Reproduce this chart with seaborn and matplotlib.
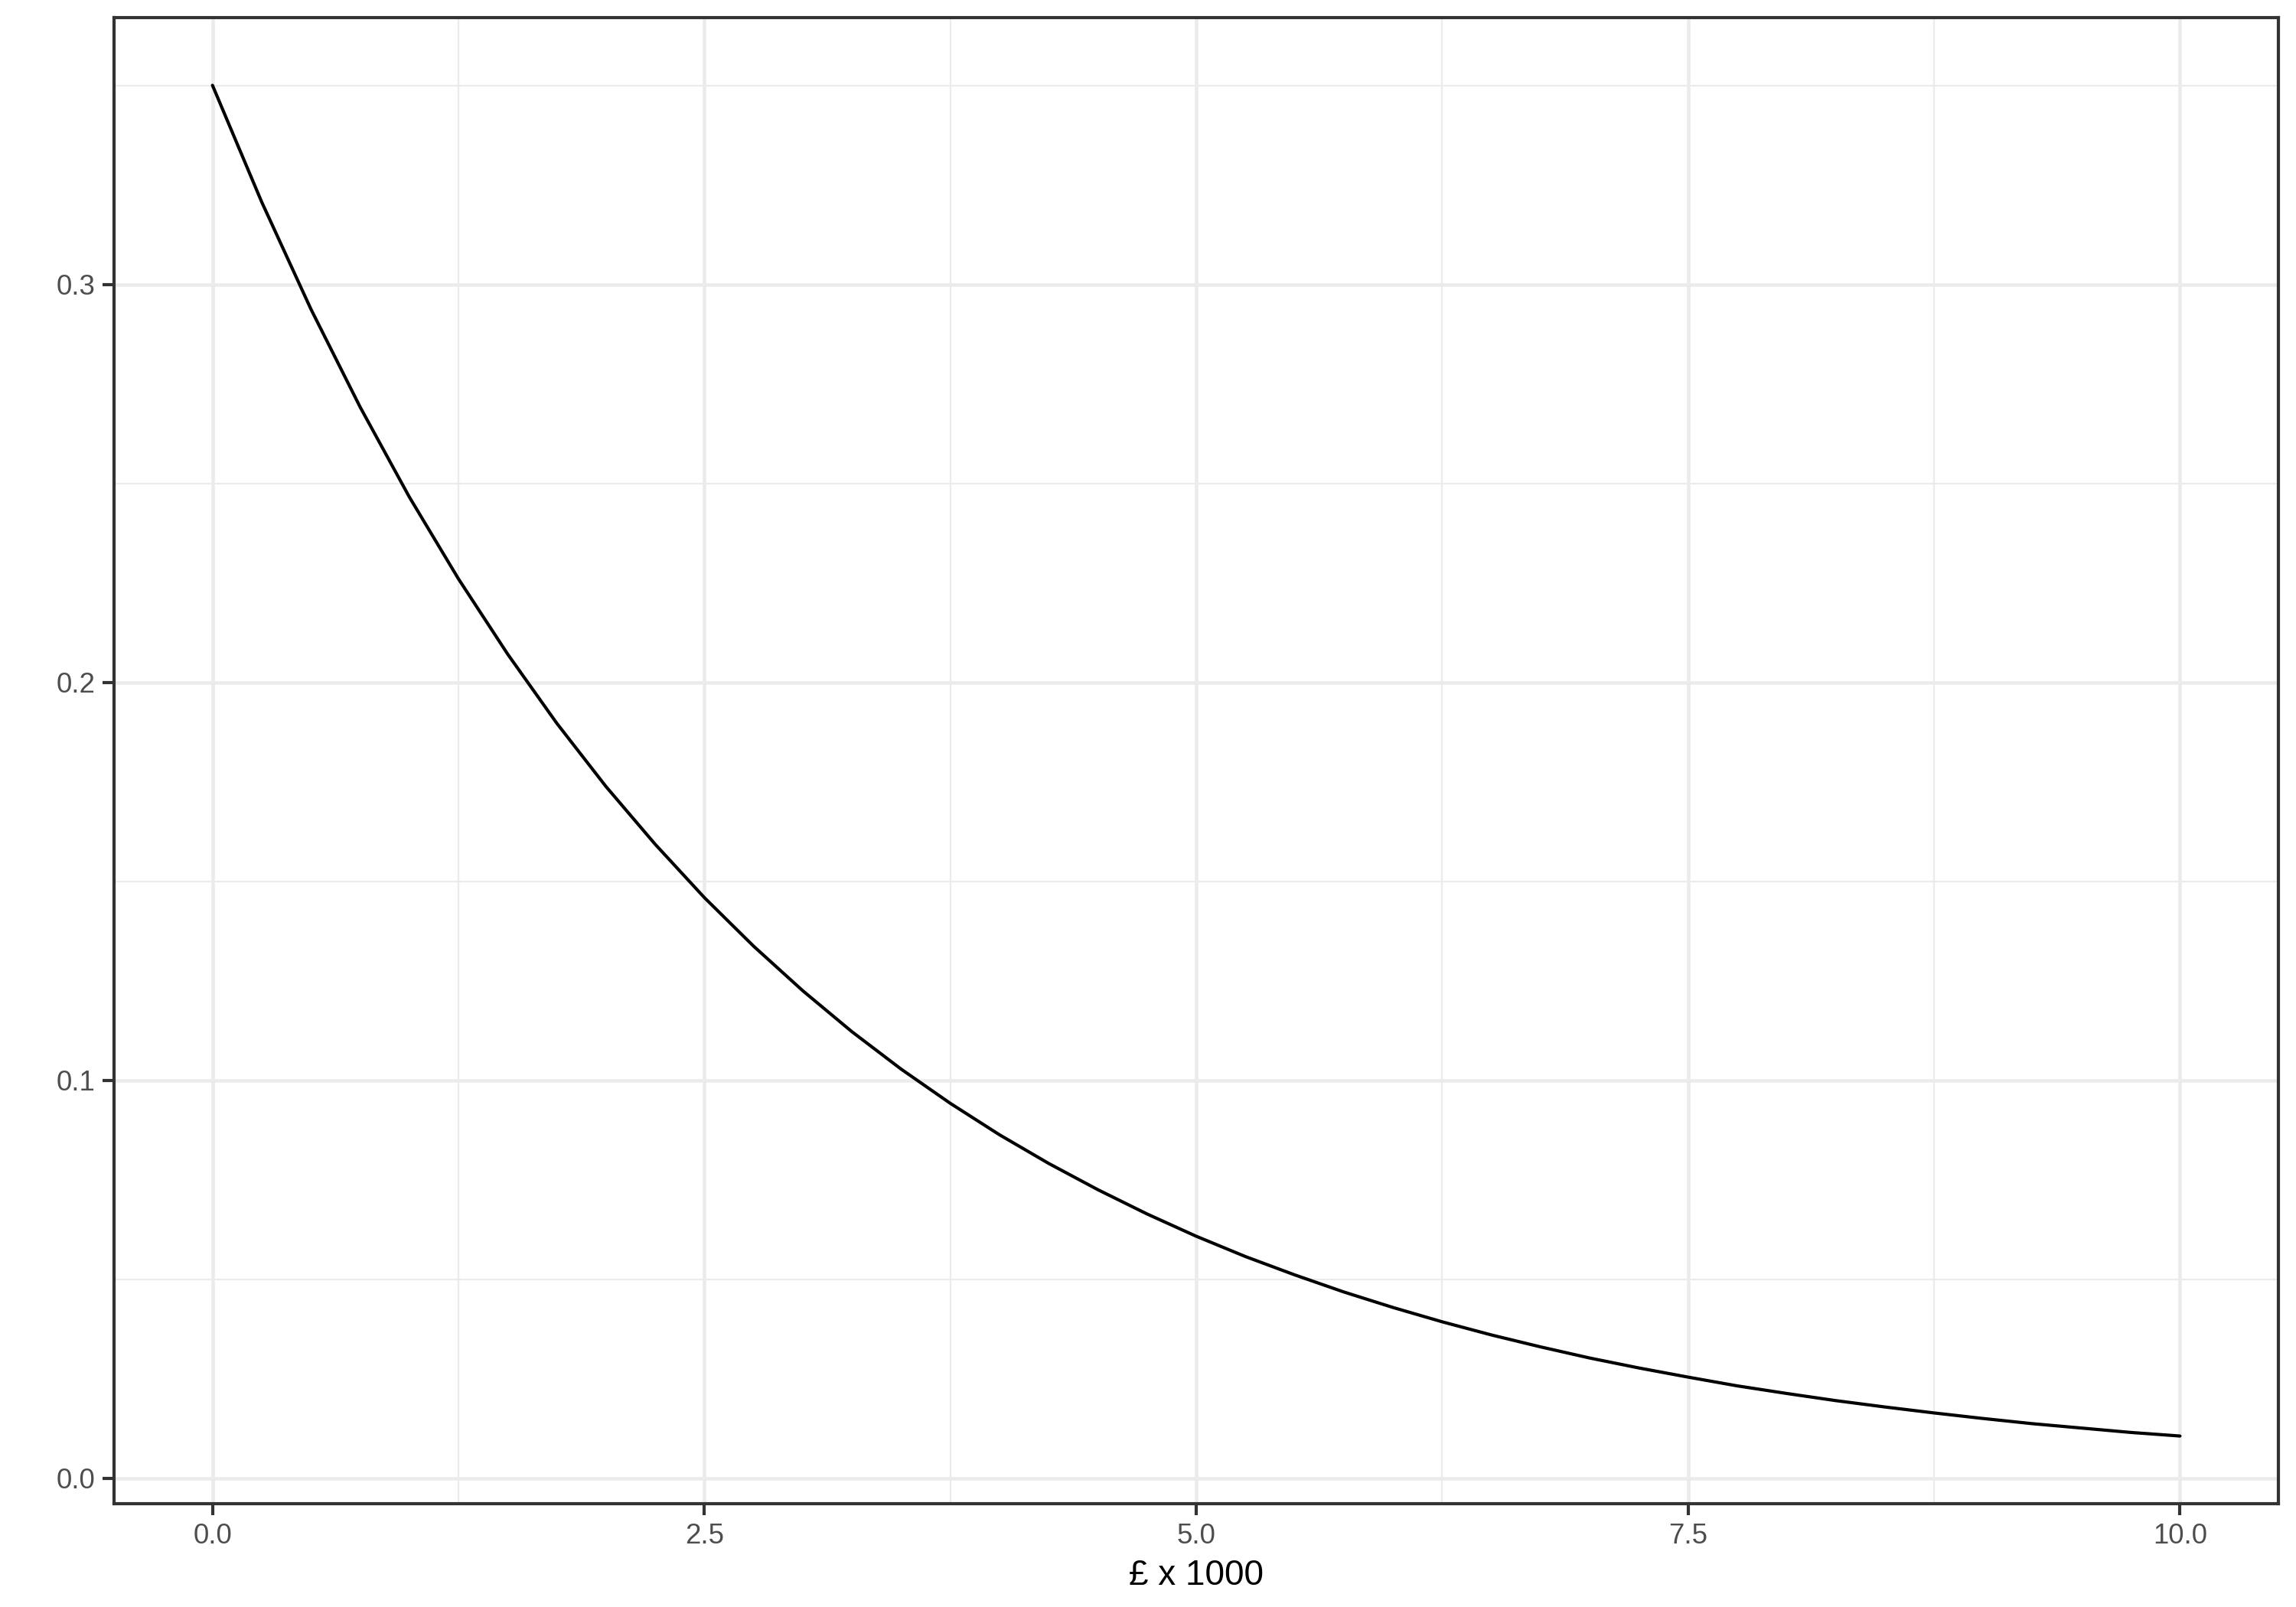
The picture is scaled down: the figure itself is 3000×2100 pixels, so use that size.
# Eksponentiell tetthetskurve, gjenskapt med seaborn
import numpy as np
import pandas as pd
import matplotlib.pyplot as plt
import seaborn as sns

# Verdier lest av bildet (hvert 0.25)
belop = [0.00, 0.25, 0.50, 0.75, 1.00, 1.25, 1.50, 1.75, 2.00, 2.25,
         2.50, 2.75, 3.00, 3.25, 3.50, 3.75, 4.00, 4.25, 4.50, 4.75,
         5.00, 5.25, 5.50, 5.75, 6.00, 6.25, 6.50, 6.75, 7.00, 7.25,
         7.50, 7.75, 8.00, 8.25, 8.50, 8.75, 9.00, 9.25, 9.50, 9.75, 10.00]
tetthet = [0.3500, 0.3207, 0.2938, 0.2692, 0.2466, 0.2260, 0.2071, 0.1897,
           0.1738, 0.1593, 0.1459, 0.1337, 0.1225, 0.1122, 0.1028, 0.0942,
           0.0863, 0.0791, 0.0725, 0.0664, 0.0608, 0.0557, 0.0511, 0.0468,
           0.0429, 0.0393, 0.0360, 0.0330, 0.0302, 0.0277, 0.0254, 0.0232,
           0.0213, 0.0195, 0.0179, 0.0164, 0.0150, 0.0137, 0.0126, 0.0115,
           0.0106]
x_ticks = [0.0, 2.5, 5.0, 7.5, 10.0]
x_minor = [1.25, 3.75, 6.25, 8.75]
y_ticks = [0.0, 0.1, 0.2, 0.3]
y_minor = [0.05, 0.15, 0.25, 0.35]

df = pd.DataFrame({"x": belop, "y": tetthet})

sns.set_theme(style="white")
plt.rcParams["font.family"] = ["Liberation Sans", "DejaVu Sans"]

fig, ax = plt.subplots(figsize=(10, 7), dpi=300)
fig.subplots_adjust(left=0.0497, right=0.9923, top=0.989, bottom=0.0643)

sns.lineplot(data=df, x="x", y="y", ax=ax, color="black", linewidth=1.0)

ax.set_xlim(-0.5, 10.5)
ax.set_ylim(-0.0064, 0.3670)
ax.set_xticks(x_ticks)
ax.set_xticklabels([f"{v:.1f}" for v in x_ticks])
ax.set_yticks(y_ticks)
ax.set_yticklabels([f"{v:.1f}" for v in y_ticks])
ax.set_xticks(x_minor, minor=True)
ax.set_yticks(y_minor, minor=True)

ax.grid(True, which="major", color="#EBEBEB", linewidth=1.1)
ax.grid(True, which="minor", color="#EBEBEB", linewidth=0.55)
ax.set_axisbelow(True)

ax.tick_params(axis="both", which="major", length=3.5, width=1.0, color="#333333",
               labelsize=8.8, labelcolor="#4D4D4D", pad=2.5, bottom=True, left=True)
ax.tick_params(axis="both", which="minor", length=0)

for spine in ax.spines.values():
    spine.set_color("#333333")
    spine.set_linewidth(1.0)

ax.set_xlabel("£ x 1000", fontsize=11, color="black", labelpad=3)
ax.set_ylabel("")

fig.savefig("out.png", dpi=300)
